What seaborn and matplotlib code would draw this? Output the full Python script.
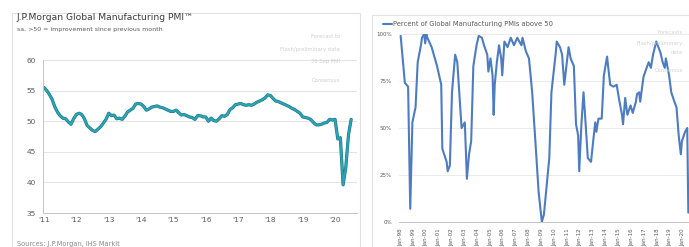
import numpy as np
import pandas as pd
import matplotlib
matplotlib.use('Agg')
import matplotlib.pyplot as plt
import matplotlib.dates as mdates
import matplotlib.ticker as mticker
import matplotlib.patheffects as pe
from matplotlib.patches import Rectangle
import seaborn as sns

sns.set_theme(style='white')
plt.rcParams['font.family'] = ['DejaVu Sans']

# -----------------------------------------------------------------------------
# data
# -----------------------------------------------------------------------------

# J.P.Morgan Global Manufacturing PMI, monthly from Jan-2011
pmi_start = '2011-01-01'
pmi = [55.5, 55.0, 54.4, 53.6, 52.4, 51.5, 50.9, 50.5, 50.4, 49.9, 49.5, 50.4,
       51.1, 51.3, 51.1, 50.4, 49.3, 48.9, 48.5, 48.3, 48.7, 49.1, 49.7, 50.3,
       51.3, 50.9, 51.0, 50.4, 50.5, 50.3, 50.8, 51.5, 51.8, 52.1, 52.8, 52.9,
       52.8, 52.4, 51.8, 52.0, 52.3, 52.4, 52.5, 52.3, 52.2, 52.0, 51.8, 51.6,
       51.6, 51.8, 51.4, 51.0, 51.1, 50.9, 50.7, 50.6, 50.3, 50.9, 50.9, 50.7,
       50.7, 50.0, 50.5, 50.1, 50.0, 50.4, 50.9, 50.8, 51.1, 51.9, 52.2, 52.7,
       52.8, 52.9, 52.7, 52.6, 52.7, 52.6, 52.8, 53.1, 53.3, 53.5, 53.8, 54.3,
       54.2, 53.7, 53.3, 53.2, 53.0, 52.8, 52.6, 52.4, 52.1, 51.9, 51.6, 51.3,
       50.7, 50.6, 50.5, 50.3, 49.8, 49.4, 49.4, 49.5, 49.7, 49.8, 50.3, 50.2,
       50.3, 47.1, 47.3, 39.6, 42.4, 47.8, 50.3]

# percent of global manufacturing PMIs above 50
share_dates = ['1998-01', '1998-05', '1998-08', '1998-10', '1998-12', '1999-03', '1999-05',
               '1999-08', '1999-09', '1999-11', '1999-12', '2000-01', '2000-02', '2000-06',
               '2000-09', '2000-11', '2001-03', '2001-04', '2001-08', '2001-09', '2001-11',
               '2002-01', '2002-04', '2002-06', '2002-10', '2003-01', '2003-03', '2003-05',
               '2003-07', '2003-09', '2003-12', '2004-02', '2004-05', '2004-07', '2004-10',
               '2004-11', '2005-01', '2005-03', '2005-04', '2005-05', '2005-07', '2005-09',
               '2005-11', '2005-12', '2006-02', '2006-05', '2006-08', '2006-11', '2007-02',
               '2007-06', '2007-07', '2007-10', '2008-01', '2008-04', '2008-08', '2008-10',
               '2009-01', '2009-03', '2009-08', '2009-10', '2010-02', '2010-03', '2010-06',
               '2010-08', '2010-10', '2010-12', '2011-02', '2011-04', '2011-07', '2011-09',
               '2011-11', '2011-12', '2012-02', '2012-04', '2012-06', '2012-08', '2012-11',
               '2013-01', '2013-03', '2013-04', '2013-06', '2013-09', '2013-11', '2014-02',
               '2014-03', '2014-05', '2014-08', '2014-11', '2015-01', '2015-04', '2015-05',
               '2015-07', '2015-09', '2015-12', '2016-02', '2016-05', '2016-06', '2016-08',
               '2016-09', '2016-12', '2017-03', '2017-05', '2017-07', '2017-09', '2017-12',
               '2018-02', '2018-04', '2018-06', '2018-08', '2018-09', '2018-12', '2019-02',
               '2019-05', '2019-07', '2019-09', '2019-11', '2019-12', '2020-03', '2020-05',
               '2020-06']
share = [99, 74, 72, 7, 53, 61, 85,
         94, 98, 100, 95, 100, 98, 93,
         87, 83, 73, 39, 32, 27, 30,
         69, 89, 85, 50, 53, 23, 36,
         43, 83, 94, 99, 98, 94, 89,
         80, 87, 78, 57, 73, 85, 94,
         87, 78, 96, 93, 98, 94, 98,
         94, 98, 91, 87, 69, 34, 16,
         0, 4, 34, 69, 90, 96, 93,
         89, 73, 83, 93, 87, 83, 52,
         46, 27, 52, 69, 52, 34, 32,
         43, 53, 48, 55, 55, 78, 88,
         83, 73, 72, 73, 66, 57, 52,
         66, 57, 62, 58, 64, 68, 69,
         64, 77, 82, 85, 82, 89, 96,
         93, 90, 85, 82, 87, 78, 69,
         64, 61, 46, 36, 43, 48, 50,
         5]

year_ticks = list(range(1998, 2021))
pmi_years = list(range(2011, 2021))

notes = ['Forecast to', 'Flash/preliminary data', '30 Sep PMI', 'Consensus']

pmi_df = pd.DataFrame({'Date': pd.date_range(pmi_start, periods=len(pmi), freq='MS'), 'PMI': pmi})
share_df = pd.DataFrame({'Date': pd.to_datetime(share_dates), 'Share': np.array(share) / 100})

# -----------------------------------------------------------------------------
# figure
# -----------------------------------------------------------------------------

W, H = 689, 247
fig = plt.figure(figsize=(W / 100, H / 100), dpi=100)


def px_box(x0, y0, x1, y1):
    return [x0 / W, 1 - y1 / H, (x1 - x0) / W, (y1 - y0) / H]


# panel frames
for x0, y0, x1, y1 in [(12, 13, 360, 262), (372, 15, 700, 262)]:
    b = px_box(x0, y0, x1, y1)
    fig.patches.append(Rectangle((b[0], b[1]), b[2], b[3], transform=fig.transFigure,
                                 fill=False, edgecolor='#e2e2e2', lw=0.8))

grey = '#5a5a5a'

# ---- left panel
ax1 = fig.add_axes(px_box(43, 60, 357, 213))
sns.lineplot(data=pmi_df, x='Date', y='PMI', ax=ax1, color='#2aa3b3', lw=1.5,
             path_effects=[pe.Stroke(linewidth=2.3, foreground='#1d7482'), pe.Normal()])
ax1.set_xlim(pd.Timestamp('2010-12-20'), pd.Timestamp('2020-09-05'))
ax1.set_ylim(35, 60)
ax1.set_yticks([35, 40, 45, 50, 55, 60])
ax1.set_xticks([pd.Timestamp(f'{y}-01-01') for y in pmi_years])
ax1.xaxis.set_major_formatter(mdates.DateFormatter("'%y"))
ax1.grid(axis='y', color='#e4e4e4', lw=0.7)
ax1.set_xlabel('')
ax1.set_ylabel('')
for s in ['top', 'right']:
    ax1.spines[s].set_visible(False)
for s in ['left', 'bottom']:
    ax1.spines[s].set_color('#c4c4c4')
    ax1.spines[s].set_linewidth(0.7)
ax1.tick_params(axis='both', labelsize=5.3, colors='#c4c4c4', labelcolor=grey, length=2, width=0.6, pad=3)
ax1.tick_params(axis='x', direction='in', length=2)

fig.text(17 / W, 1 - 17 / H, 'J.P.Morgan Global Manufacturing PMI™', fontsize=6.6, color='#3a3a3a', va='center')
fig.text(17 / W, 1 - 29 / H, 'sa, >50 = improvement since previous month', fontsize=4.5, color=grey, va='center')
for n, y in zip(notes, [37, 50, 62, 80]):
    fig.text(340 / W, 1 - y / H, n, fontsize=3.8, color='#cfcfcf', va='center', ha='right')
fig.text(17 / W, 1 - 244 / H, 'Sources: J.P.Morgan, IHS Markit', fontsize=4.8, color='#8a8a8a', va='center')

# ---- right panel
ax2 = fig.add_axes(px_box(399, 34, 689, 222))
sns.lineplot(data=share_df, x='Date', y='Share', ax=ax2, color='#4d7cc0', lw=1.5,
             label='Percent of Global Manufacturing PMIs above 50')
ax2.set_xlim(pd.Timestamp('1997-11-15'), pd.Timestamp('2020-06-20'))
ax2.set_ylim(0, 1)
ax2.set_yticks([0, 0.25, 0.5, 0.75, 1])
ax2.yaxis.set_major_formatter(mticker.PercentFormatter(1.0, decimals=0))
ax2.set_xticks([pd.Timestamp(f'{y}-01-01') for y in year_ticks])
ax2.xaxis.set_major_formatter(mdates.DateFormatter('%b-%y'))
ax2.xaxis.set_minor_locator(mdates.MonthLocator(bymonth=[4, 7, 10]))
ax2.grid(axis='y', color='#ececec', lw=0.7)
ax2.set_xlabel('')
ax2.set_ylabel('')
for s in ['top', 'right', 'left']:
    ax2.spines[s].set_visible(False)
ax2.spines['bottom'].set_color('#c4c4c4')
ax2.spines['bottom'].set_linewidth(0.7)
ax2.tick_params(axis='y', labelsize=4, labelcolor=grey, length=0, pad=5)
ax2.tick_params(axis='x', which='both', labelsize=4, labelcolor=grey, colors='#c4c4c4',
                length=1.5, width=0.5, rotation=90, pad=3)
ax2.legend(loc='lower left', bbox_to_anchor=(383 / W, 1 - 27 / H), bbox_transform=fig.transFigure,
           frameon=False, fontsize=4.9, handlelength=1.3, handletextpad=0.2, borderpad=0,
           borderaxespad=0, labelcolor=grey)
for n, y in zip(['Forecasts', 'Flash/preliminary', 'data', 'Consensus'], [33, 43, 53, 70]):
    fig.text(683 / W, 1 - y / H, n, fontsize=3.8, color='#d2d2d2', va='center', ha='right')

fig.savefig('out.png', dpi=100)
plt.close('all')
